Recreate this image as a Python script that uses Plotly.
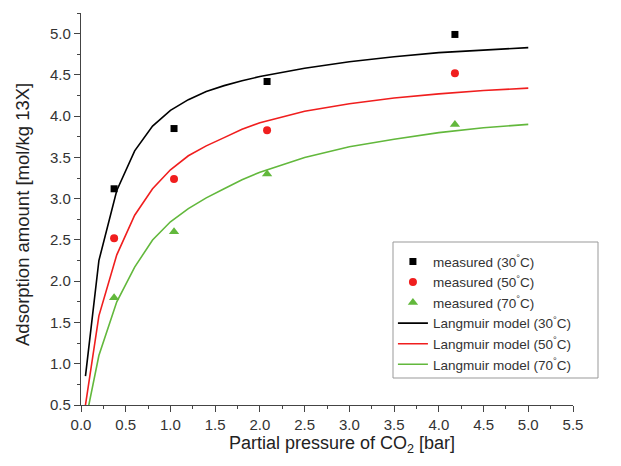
import plotly.graph_objects as go

# measured data
p_meas = [0.37, 1.04, 2.08, 4.18]
q30_meas = [3.12, 3.85, 4.42, 4.99]
q50_meas = [2.52, 3.24, 3.83, 4.52]
q70_meas = [1.80, 2.60, 3.30, 3.90]

# Langmuir model curves
p_model = [0.05, 0.2, 0.4, 0.6, 0.8, 1.0, 1.2, 1.4, 1.6, 1.8, 2.0, 2.5, 3.0, 3.5, 4.0, 4.5, 5.0]
q30_model = [0.85, 2.25, 3.10, 3.58, 3.88, 4.07, 4.20, 4.30, 4.37, 4.43, 4.48, 4.58, 4.66, 4.72, 4.77, 4.80, 4.83]
q50_model = [0.50, 1.58, 2.32, 2.80, 3.12, 3.35, 3.52, 3.64, 3.74, 3.84, 3.92, 4.06, 4.15, 4.22, 4.27, 4.31, 4.34]
q70_model = [0.30, 1.10, 1.75, 2.17, 2.50, 2.72, 2.88, 3.01, 3.12, 3.23, 3.32, 3.50, 3.63, 3.72, 3.80, 3.86, 3.90]

x_ticks = [0.0, 0.5, 1.0, 1.5, 2.0, 2.5, 3.0, 3.5, 4.0, 4.5, 5.0, 5.5]
y_ticks = [0.5, 1.0, 1.5, 2.0, 2.5, 3.0, 3.5, 4.0, 4.5, 5.0]

BLACK = "#000000"
RED = "#f01e1e"
GREEN = "#62b83c"
FONT = "Liberation Sans, Arial, sans-serif"

fig = go.Figure()
fig.add_trace(go.Scatter(x=p_meas, y=q30_meas, mode="markers", name="measured (30<sup>°</sup>C)",
                         marker=dict(symbol="square", size=7, color=BLACK)))
fig.add_trace(go.Scatter(x=p_meas, y=q50_meas, mode="markers", name="measured (50<sup>°</sup>C)",
                         marker=dict(symbol="circle", size=8, color=RED)))
fig.add_trace(go.Scatter(x=p_meas, y=q70_meas, mode="markers", name="measured (70<sup>°</sup>C)",
                         marker=dict(symbol="triangle-up", size=9, color=GREEN)))
fig.add_trace(go.Scatter(x=p_model, y=q30_model, mode="lines", name="Langmuir model (30<sup>°</sup>C)",
                         line=dict(color=BLACK, width=1.6)))
fig.add_trace(go.Scatter(x=p_model, y=q50_model, mode="lines", name="Langmuir model (50<sup>°</sup>C)",
                         line=dict(color=RED, width=1.6)))
fig.add_trace(go.Scatter(x=p_model, y=q70_model, mode="lines", name="Langmuir model (70<sup>°</sup>C)",
                         line=dict(color=GREEN, width=1.6)))

axis_common = dict(
    showline=True, linecolor="#444444", linewidth=1.3,
    ticks="outside", ticklen=6, tickwidth=1.3, tickcolor="#444444",
    showgrid=False, zeroline=False,
    tickfont=dict(family=FONT, size=15, color="#333333"),
    minor=dict(ticks="outside", ticklen=3, tickwidth=1.3, tickcolor="#444444", dtick=0.25, showgrid=False),
)

fig.update_layout(
    width=621, height=466,
    margin=dict(l=81, r=48, t=13, b=61),
    paper_bgcolor="white", plot_bgcolor="white",
    font=dict(family=FONT, color="#222222"),
    xaxis=dict(axis_common, range=[0, 5.5], tickvals=x_ticks, ticktext=[f"{v:.1f}" for v in x_ticks]),
    yaxis=dict(axis_common, range=[0.5, 5.25], tickvals=y_ticks, ticktext=[f"{v:.1f}" for v in y_ticks]),
    legend=dict(x=0.634, y=0.405, xanchor="left", yanchor="top",
                bgcolor="rgba(0,0,0,0)", borderwidth=0,
                font=dict(size=13.5, color="#333333"), itemwidth=30),
    shapes=[dict(type="rect", xref="paper", yref="paper",
                 x0=(393 - 81) / 492, x1=(598 - 81) / 492,
                 y0=(405 - 378) / 392, y1=(405 - 242) / 392,
                 line=dict(color="#999999", width=1), fillcolor="white", layer="below")],
    annotations=[
        dict(text="Partial pressure of CO<sub>2</sub> [bar]", xref="paper", yref="paper",
             x=(342 - 81) / 492, y=(405 - 445) / 392, xanchor="center", yanchor="middle",
             showarrow=False, font=dict(size=18, color="#222222")),
        dict(text="Adsorption amount [mol/kg 13X]", xref="paper", yref="paper",
             x=(22 - 81) / 492, y=(405 - 215) / 392, xanchor="center", yanchor="middle",
             textangle=-90, showarrow=False, font=dict(size=18.5, color="#222222")),
    ],
)

fig.write_html("out.html")
